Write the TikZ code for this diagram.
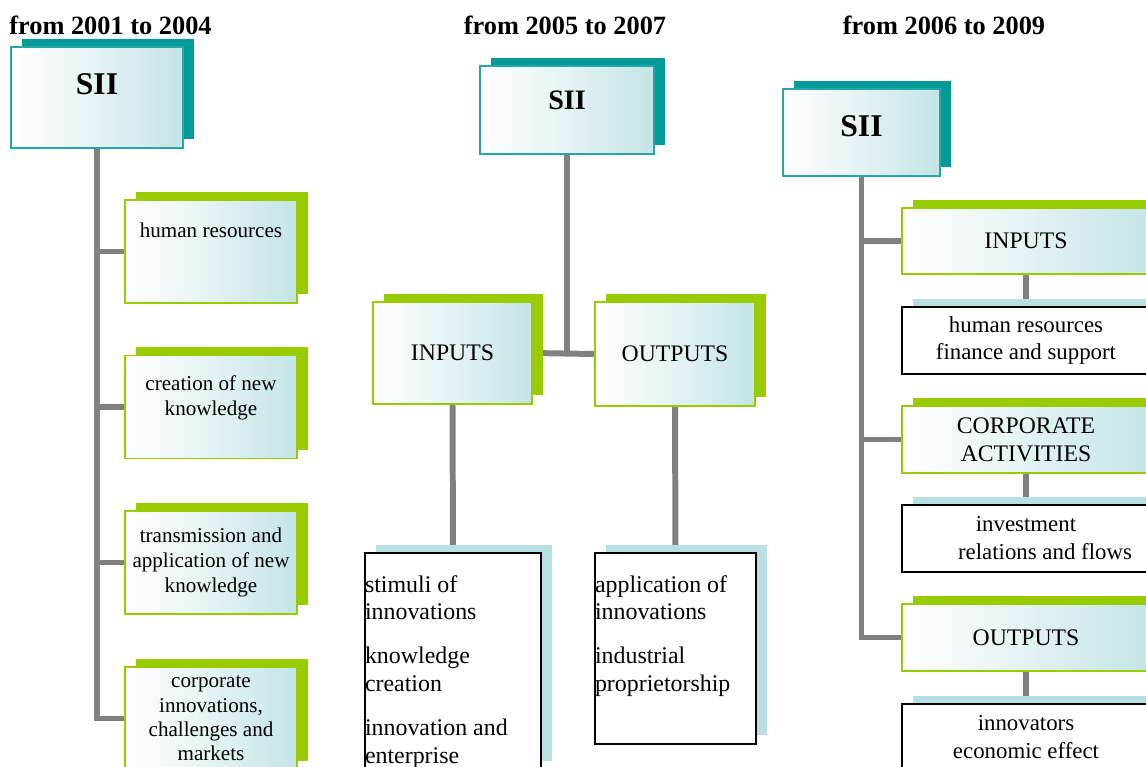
\documentclass[tikz,border=0pt]{standalone}
\usepackage{fontspec}
\setmainfont{Liberation Serif}
\usepackage{xcolor}
\definecolor{Teal}{HTML}{009B98}
\definecolor{TealEdge}{HTML}{25A7A7}
\definecolor{Leaf}{HTML}{99CC00}
\definecolor{Ice}{HTML}{B8E0E3}
\definecolor{IceShade}{HTML}{C4E4E6}
\definecolor{Rod}{HTML}{808080}
\usepackage{tikz}
\usetikzlibrary{shadows, backgrounds}
\newcommand{\fsz}[2]{\fontsize{#1}{#2}\selectfont}
\tikzset{
  box/.style={
    rectangle, inner sep=0pt, align=center,
    left color=white, right color=IceShade, middle color=IceShade!45
  },
  sii/.style={
    box, draw=TealEdge, line width=1.1pt,
    copy shadow={shadow xshift=0.22cm, shadow yshift=0.17cm, fill=Teal, draw=none}
  },
  gbox/.style={
    box, draw=Leaf, line width=0.9pt,
    copy shadow={shadow xshift=0.22cm, shadow yshift=0.17cm, fill=Leaf, draw=none}
  },
  lbox/.style={
    rectangle, inner sep=0pt, align=center,
    draw=black, line width=1.1pt, fill=white,
    copy shadow={shadow xshift=0.22cm, shadow yshift=0.17cm, fill=Ice, draw=none}
  },
  conn/.style={draw=Rod, line width=3.4pt},
  yr/.style={font=\bfseries\fsz{15}{18}},
  lbl/.style={align=center, inner sep=0pt},
}

\begin{document}
\begin{tikzpicture}[x=0.02cm, y=-0.02cm]
\useasboundingbox (0,0) rectangle (1146,767);
\clip (0,0) rectangle (1146,767);

% first scheme: 2001--2004
\node[yr] (y1) at (110.5,25) {from 2001 to 2004};
\node[sii, minimum width=3.44cm, minimum height=2.02cm,
  label={[lbl, yshift=0.27cm, font=\bfseries\fsz{18}{21}]center:SII}] (sii1) at (97,97.5) {};
\node[gbox, minimum width=3.44cm, minimum height=2.06cm,
  label={[lbl, yshift=0.43cm, font=\fsz{12}{14.2}]center:human resources}] (hr1) at (211,251.5) {};
\node[gbox, minimum width=3.44cm, minimum height=2.06cm,
  label={[lbl, yshift=0.19cm, font=\fsz{12}{14.2}]center:creation of new\\knowledge}] (know1) at (211,407) {};
\node[gbox, minimum width=3.44cm, minimum height=2.06cm, font=\fsz{12}{14.2}] (trans1) at (211,562.5)
  {transmission and\\application of new\\knowledge};
\node[gbox, minimum width=3.44cm, minimum height=2.06cm, font=\fsz{12}{13.8}] (corp1) at (211,718.5)
  {corporate\\innovations,\\challenges and\\markets};

% second scheme: 2005--2007
\node[yr] (y2) at (565,25) {from 2005 to 2007};
\node[sii, minimum width=3.48cm, minimum height=1.76cm,
  label={[lbl, yshift=0.2cm, font=\bfseries\fsz{16}{19}]center:SII}] (sii2) at (567,110) {};
\node[gbox, minimum width=3.18cm, minimum height=2.04cm, font=\fsz{13.5}{16}] (in2) at (452.5,353) {INPUTS};
\node[gbox, minimum width=3.2cm, minimum height=2.08cm, font=\fsz{13.5}{16}] (out2) at (675,354) {OUTPUTS};
\node[lbox, font=\fsz{13.6}{15.9}] (inlist) at (453,661.5)
  {\parbox[t][4.34cm][t]{3.52cm}{\raggedright\rule{0pt}{0.78cm}stimuli of\\innovations\\[0.32cm]knowledge\\creation\\[0.32cm]innovation and\\enterprise}};
\node[lbox, font=\fsz{13.6}{15.9}] (outlist) at (675.5,648.5)
  {\parbox[t][3.82cm][t]{3.22cm}{\raggedright\rule{0pt}{0.78cm}application of\\innovations\\[0.32cm]industrial\\proprietorship}};

% third scheme: 2006--2009
\node[yr] (y3) at (944,25) {from 2006 to 2009};
\node[sii, minimum width=3.14cm, minimum height=1.74cm,
  label={[lbl, yshift=0.13cm, font=\bfseries\fsz{18}{21}]center:SII}] (sii3) at (861.5,132.5) {};
\node[gbox, minimum width=4.96cm, minimum height=1.32cm, font=\fsz{13.5}{15.9}] (ins3) at (1026,241) {INPUTS};
\node[lbox, minimum width=4.96cm, minimum height=1.34cm, font=\fsz{13}{15.9}] (hrl3) at (1026,340.5)
  {human resources\\finance and support};
\node[gbox, minimum width=4.96cm, minimum height=1.34cm, font=\fsz{13.5}{15.9}] (corp3) at (1026,439.5)
  {CORPORATE\\ACTIVITIES};
\node[lbox, minimum width=4.96cm, minimum height=1.34cm, font=\fsz{13}{15.9}] (invl3) at (1026,538.5)
  {investment\\\hspace*{0.76cm}relations and flows};
\node[gbox, minimum width=4.96cm, minimum height=1.34cm, font=\fsz{13.5}{15.9}] (outs3) at (1026,637.5) {OUTPUTS};
\node[lbox, minimum width=4.96cm, minimum height=1.34cm, font=\fsz{13}{15.9}] (innl3) at (1026,737.5)
  {innovators\\economic effect};

\begin{scope}[on background layer]
  \draw[conn] (sii1.south) |- (corp1.west);
  \foreach \n in {hr1, know1, trans1}
    \draw[conn] (\n.west) -- (\n.west -| sii1.south);
  \draw[conn] (sii2.south) -- (sii2.south |- in2.east);
  \draw[conn] (in2.east) -- (out2.west);
  \draw[conn] (in2.south) -- (inlist.north);
  \draw[conn] (out2.south) -- (outlist.north);
  \draw[conn] (sii3.south) |- (outs3.west);
  \foreach \n in {ins3, corp3}
    \draw[conn] (\n.west) -- (\n.west -| sii3.south);
  \foreach \a/\b in {ins3/hrl3, corp3/invl3, outs3/innl3}
    \draw[conn] (\a.south) -- (\b.north);
\end{scope}

\end{tikzpicture}
\end{document}
